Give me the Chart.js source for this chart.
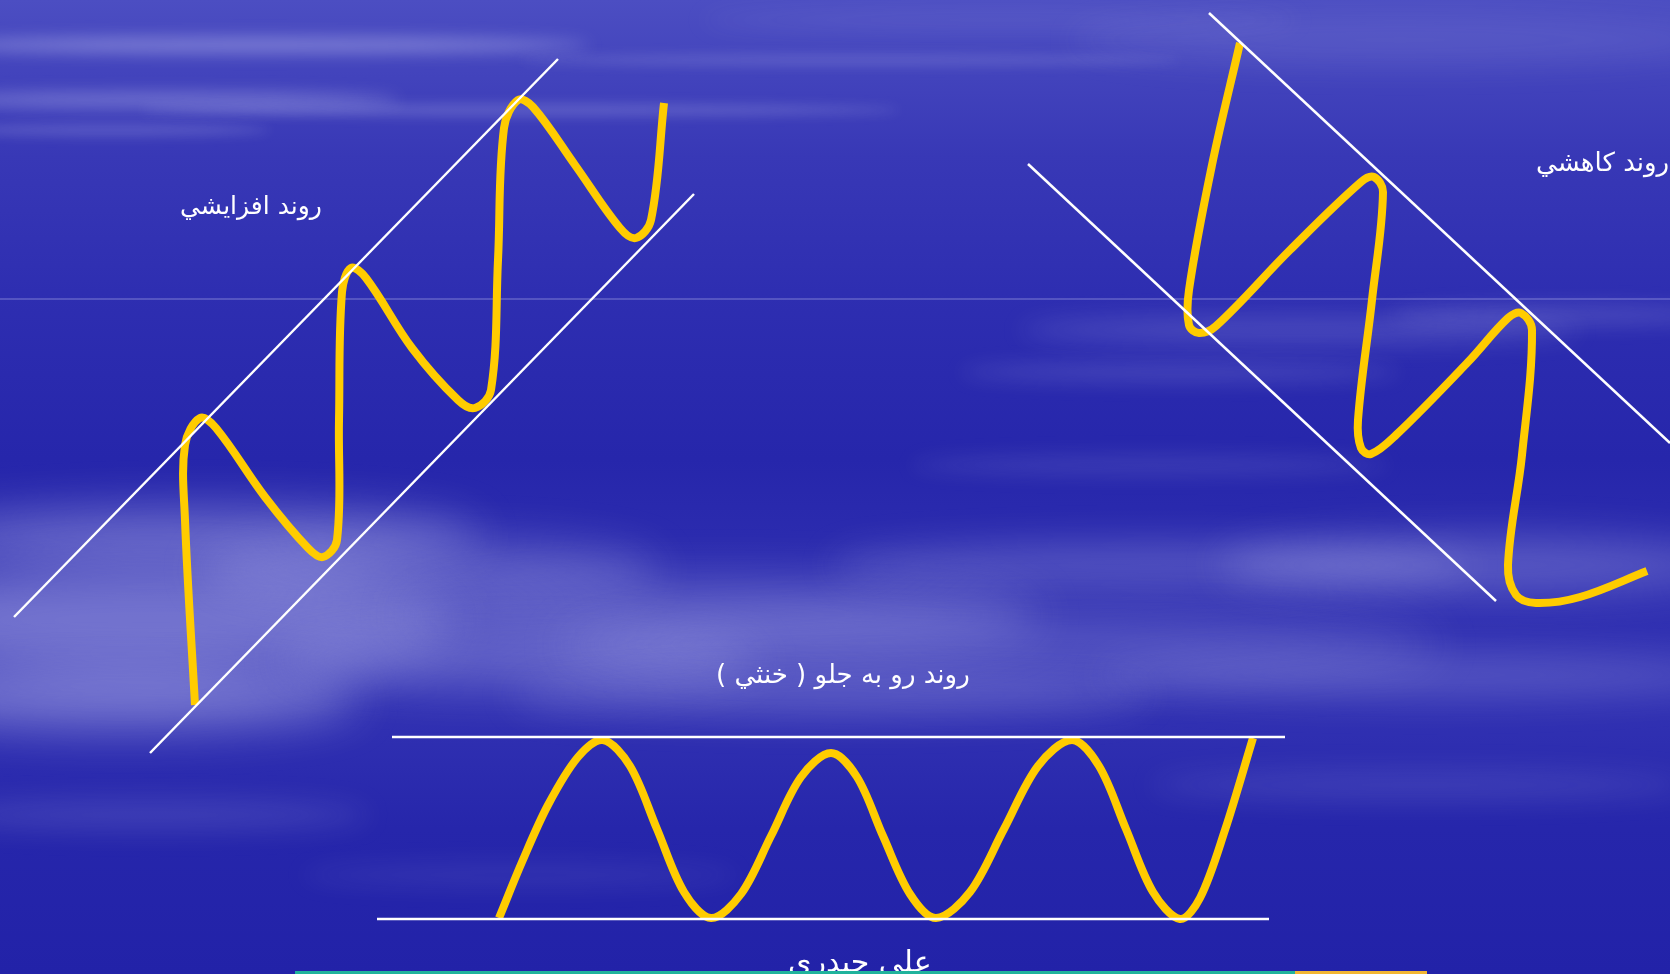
<!DOCTYPE html>
<html>
<head>
<meta charset="utf-8">
<script src="https://cdn.jsdelivr.net/npm/chart.js@4"></script>
<style>
  html, body { margin: 0; padding: 0; overflow: hidden; background: #2a2ab0; }
  #wrap { position: relative; width: 1670px; height: 974px; overflow: hidden; }
  .label {
    position: absolute; color: #fff; white-space: nowrap;
    font-family: "DejaVu Sans", sans-serif; direction: rtl;
  }
  .bar { position: absolute; top: 971px; height: 3px; z-index: 5; }
</style>
</head>
<body>
<div id="wrap">
  <canvas id="chart" width="1670" height="974"></canvas>
  <div class="label" style="left:180px; top:191px; font-size:25px;">روند افزايشي</div>
  <div class="label" style="left:1536px; top:147px; font-size:26px;">روند كاهشي</div>
  <div class="label" style="left:716px; top:659px; font-size:26px;">روند رو به جلو ( خنثي )</div>
  <div class="label" style="left:788px; top:944px; font-size:30px;">علي حيدري</div>
  <div class="bar" style="left:295px; width:1000px; background:#1fb39c;"></div>
  <div class="bar" style="left:1295px; width:132px; background:#f2b632;"></div>
</div>
<script>
// rising trend (left)
const upX = [195, 185, 185, 200, 216, 265, 308, 323, 337, 339, 342, 351, 366, 412, 458, 475, 491, 498, 504, 518, 533, 575, 620, 636, 651, 664];
const upY = [705, 520, 445, 418, 428, 497, 548, 557, 540, 420, 292, 268, 278, 348, 400, 408, 390, 260, 128, 100, 107, 165, 228, 238, 220, 103];
const upTop = { x: [14, 558], y: [617, 59] };
const upBottom = { x: [150, 694], y: [753, 194] };

// falling trend (right)
const downX = [1240, 1212, 1189, 1189, 1199, 1216, 1290, 1361, 1374, 1383, 1372, 1358, 1361, 1371, 1396, 1468, 1508, 1521, 1532, 1522, 1508, 1516, 1536, 1580, 1647];
const downY = [43, 165, 290, 325, 333, 326, 250, 182, 177, 192, 300, 420, 448, 454, 435, 362, 318, 313, 330, 455, 565, 595, 603, 597, 571];
const downTop = { x: [1209, 1670], y: [13, 443] };
const downBottom = { x: [1028, 1496], y: [164, 601] };

// sideways trend (bottom)
const flatX = [499, 522, 548, 578, 603, 630, 657, 684, 711, 741, 771, 801, 831, 857, 883, 910, 936, 970, 1004, 1038, 1072, 1099, 1126, 1153, 1180, 1200, 1225, 1253];
const flatY = [918, 862, 805, 757, 740, 766, 829, 892, 918, 894, 836, 777, 753, 777, 836, 894, 918, 892, 829, 766, 740, 766, 829, 892, 919, 898, 830, 738];
const flatTop = { x: [392, 1285], y: [737, 737] };
const flatBottom = { x: [377, 1269], y: [919, 919] };

const pts = (xs, ys) => xs.map((x, i) => ({ x: x, y: ys[i] }));

const curve = (xs, ys, t) => ({
  data: pts(xs, ys),
  showLine: true,
  borderColor: "#ffcc00",
  borderWidth: 8,
  borderCapStyle: "butt",
  borderJoinStyle: "round",
  tension: t,
  pointRadius: 0,
  clip: false,
});
const edge = (l) => ({
  data: pts(l.x, l.y),
  showLine: true,
  borderColor: "#ffffff",
  borderWidth: 2.5,
  tension: 0,
  pointRadius: 0,
  clip: false,
});

// cloudy sky behind the chart: [cx, cy, rx, ry, alpha, blur]
const clouds = [
  [260, 45, 330, 8, 0.35, 8], [160, 100, 240, 8, 0.3, 8], [520, 110, 380, 6, 0.2, 6],
  [850, 60, 330, 6, 0.15, 6], [110, 130, 160, 6, 0.18, 6], [1400, 40, 330, 25, 0.1, 16],
  [1000, 20, 300, 10, 0.1, 12],
  [1300, 330, 280, 14, 0.16, 12], [1180, 372, 220, 10, 0.14, 10], [1560, 315, 170, 10, 0.16, 10],
  [1150, 465, 240, 10, 0.12, 10],
  [200, 535, 280, 28, 0.32, 22], [150, 620, 300, 55, 0.38, 26], [430, 570, 230, 30, 0.25, 22],
  [720, 615, 320, 35, 0.25, 24], [120, 700, 240, 30, 0.35, 22], [520, 660, 240, 28, 0.25, 22],
  [1150, 565, 320, 22, 0.22, 18], [1480, 565, 260, 28, 0.25, 20], [1000, 645, 440, 32, 0.2, 24],
  [830, 695, 320, 22, 0.2, 18], [1420, 675, 320, 22, 0.18, 18],
  [150, 815, 220, 14, 0.14, 14], [520, 875, 220, 12, 0.08, 12], [1420, 785, 270, 14, 0.12, 14],
];

const sky = {
  id: "sky",
  beforeDraw(chart) {
    const ctx = chart.ctx, w = chart.width, h = chart.height;
    ctx.save();
    const g = ctx.createLinearGradient(0, 0, 0, h);
    g.addColorStop(0, "#4c4ec2");
    g.addColorStop(0.16, "#3838b6");
    g.addColorStop(0.3, "#2e2eb1");
    g.addColorStop(0.47, "#2626ab");
    g.addColorStop(0.7, "#3434b4");
    g.addColorStop(0.85, "#2626ab");
    g.addColorStop(1, "#2222a8");
    ctx.fillStyle = g;
    ctx.fillRect(0, 0, w, h);
    clouds.forEach(([cx, cy, rx, ry, a, b]) => {
      ctx.filter = "blur(" + b + "px)";
      ctx.fillStyle = "rgba(225,225,255," + a + ")";
      ctx.beginPath();
      ctx.ellipse(cx, cy, rx, ry, 0, 0, Math.PI * 2);
      ctx.fill();
    });
    ctx.filter = "none";
    ctx.fillStyle = "rgba(190,190,240,0.55)";
    ctx.fillRect(0, 298.5, w, 1);
    ctx.restore();
  },
};

new Chart(document.getElementById("chart"), {
  type: "scatter",
  data: {
    datasets: [
      edge(upTop), edge(upBottom), curve(upX, upY, 0.36),
      edge(downTop), edge(downBottom), curve(downX, downY, 0.36),
      edge(flatTop), edge(flatBottom), curve(flatX, flatY, 0.33),
    ],
  },
  options: {
    responsive: false,
    animation: false,
    layout: { padding: 0 },
    plugins: { legend: { display: false }, tooltip: { enabled: false } },
    scales: {
      x: { type: "linear", min: 0, max: 1670, display: false },
      y: { type: "linear", min: 0, max: 974, reverse: true, display: false },
    },
  },
  plugins: [sky],
});
</script>
</body>
</html>
